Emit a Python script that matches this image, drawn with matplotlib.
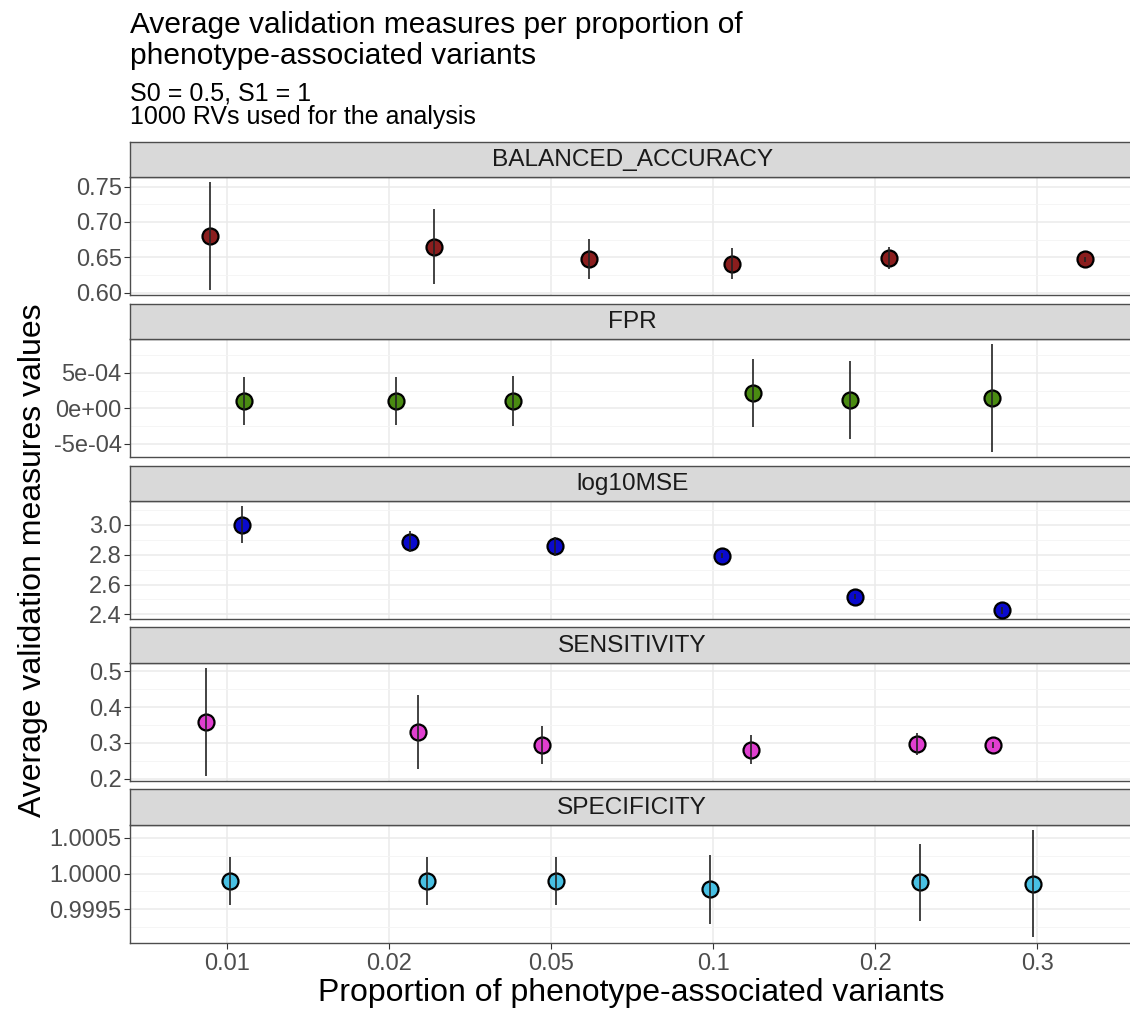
import matplotlib
matplotlib.use("Agg")
import matplotlib.pyplot as plt
from matplotlib.ticker import FixedLocator, FixedFormatter, NullFormatter

plt.rcParams["font.family"] = ["Liberation Sans", "DejaVu Sans"]

# proportions of phenotype-associated variants (discrete x axis)
proportions = ["0.01", "0.02", "0.05", "0.1", "0.2", "0.3"]
measures = ["BALANCED_ACCURACY", "FPR", "log10MSE", "SENSITIVITY", "SPECIFICITY"]

# mean and sd of each measure per proportion
ba_mean = [0.680, 0.665, 0.648, 0.641, 0.649, 0.647]
ba_sd = [0.076, 0.053, 0.028, 0.022, 0.016, 0.004]
fpr_mean = [1.0e-4, 1.0e-4, 1.0e-4, 2.2e-4, 1.2e-4, 1.45e-4]
fpr_sd = [3.4e-4, 3.4e-4, 3.5e-4, 4.8e-4, 5.5e-4, 7.55e-4]
mse_mean = [3.000, 2.886, 2.856, 2.793, 2.519, 2.427]
mse_sd = [0.125, 0.070, 0.065, 0.018, 0.018, 0.022]
sens_mean = [0.359, 0.330, 0.294, 0.2815, 0.297, 0.294]
sens_sd = [0.150, 0.104, 0.054, 0.040, 0.032, 0.008]
spec_mean = [0.999895, 0.999895, 0.999895, 0.99978, 0.999876, 0.999858]
spec_sd = [0.00033, 0.00033, 0.00034, 0.00048, 0.00054, 0.00075]

# horizontal jitter of the points (fraction of category spacing)
ba_jitter = [-0.107, 0.274, 0.235, 0.117, 0.085, 0.294]
fpr_jitter = [0.105, 0.043, -0.239, 0.243, -0.154, -0.278]
mse_jitter = [0.091, 0.127, 0.025, 0.057, -0.128, -0.216]
sens_jitter = [-0.130, 0.175, -0.054, 0.232, 0.260, -0.275]
spec_jitter = [0.015, 0.236, 0.029, -0.023, 0.276, -0.028]

means = [ba_mean, fpr_mean, mse_mean, sens_mean, spec_mean]
sds = [ba_sd, fpr_sd, mse_sd, sens_sd, spec_sd]
jitters = [ba_jitter, fpr_jitter, mse_jitter, sens_jitter, spec_jitter]
fills = ["#8B1E1E", "#4A8B12", "#0A0ACD", "#E03FD0", "#48C0E3"]

yticks = [
    [0.60, 0.65, 0.70, 0.75],
    [-5e-4, 0.0, 5e-4],
    [2.4, 2.6, 2.8, 3.0],
    [0.2, 0.3, 0.4, 0.5],
    [0.9995, 1.0, 1.0005],
]
ytick_labels = [
    ["0.60", "0.65", "0.70", "0.75"],
    ["-5e-04", "0e+00", "5e-04"],
    ["2.4", "2.6", "2.8", "3.0"],
    ["0.2", "0.3", "0.4", "0.5"],
    ["0.9995", "1.0000", "1.0005"],
]
yminor = [
    [0.575, 0.625, 0.675, 0.725, 0.775],
    [-7.5e-4, -2.5e-4, 2.5e-4, 7.5e-4],
    [2.3, 2.5, 2.7, 2.9, 3.1],
    [0.15, 0.25, 0.35, 0.45, 0.55],
    [0.99925, 0.99975, 1.00025, 1.00075],
]

W, H = 1130, 1010
fig = plt.figure(figsize=(W / 100, H / 100), dpi=100)

left_px, right_px = 130, 1134.5
top0, pitch, strip_h, panel_h = 141.7, 161.9, 35.3, 118.2

def fx(px):
    return px / W

def fy(px):
    return 1 - px / H

for i, name in enumerate(measures):
    s_top = top0 + i * pitch
    p_top = s_top + strip_h
    ax = fig.add_axes([fx(left_px), fy(p_top + panel_h), fx(right_px - left_px), panel_h / H])
    sax = fig.add_axes([fx(left_px), fy(p_top), fx(right_px - left_px), strip_h / H])

    # strip
    sax.set_facecolor("#D9D9D9")
    sax.set_xticks([])
    sax.set_yticks([])
    for sp in sax.spines.values():
        sp.set_color("#4D4D4D")
        sp.set_linewidth(1.0)
    sax.text(0.5, 0.47, name, transform=sax.transAxes, ha="center", va="center",
             fontsize=17.6, color="#1A1A1A")

    xs = [k + 1 + j for k, j in enumerate(jitters[i])]
    ax.plot(xs, means[i], linestyle="none", marker="o", markersize=11.5,
            markerfacecolor=fills[i], markeredgecolor="black", markeredgewidth=1.6,
            zorder=3)
    ax.errorbar(xs, means[i], yerr=sds[i], fmt="none", ecolor="#222222",
                elinewidth=1.2, capsize=0, zorder=4)

    ax.set_xlim(0.4, 6.6)
    ax.margins(y=0.05)
    ax.set_xticks(range(1, len(proportions) + 1))
    ax.yaxis.set_major_locator(FixedLocator(yticks[i]))
    ax.yaxis.set_major_formatter(FixedFormatter(ytick_labels[i]))
    ax.yaxis.set_minor_locator(FixedLocator(yminor[i]))
    ax.yaxis.set_minor_formatter(NullFormatter())

    ax.grid(True, which="major", color="#EBEBEB", linewidth=1.1)
    ax.grid(True, which="minor", axis="y", color="#F4F4F4", linewidth=0.6)
    ax.set_axisbelow(True)
    for sp in ax.spines.values():
        sp.set_color("#4D4D4D")
        sp.set_linewidth(1.0)

    ax.tick_params(axis="y", which="major", length=4, width=0.8, color="#333333",
                   labelsize=17, labelcolor="#4D4D4D", pad=2)
    ax.tick_params(axis="y", which="minor", length=0)
    if i == len(measures) - 1:
        ax.set_xticklabels(proportions)
        ax.tick_params(axis="x", length=4, width=0.8, color="#333333",
                       labelsize=17, labelcolor="#4D4D4D", pad=3)
    else:
        ax.tick_params(axis="x", length=0, labelbottom=False)

fig.text(fx(130), fy(33), "Average validation measures per proportion of",
         fontsize=21.5, va="baseline", ha="left", color="black")
fig.text(fx(130), fy(64), "phenotype-associated variants",
         fontsize=21.5, va="baseline", ha="left", color="black")
fig.text(fx(130), fy(100), "S0 = 0.5, S1 = 1",
         fontsize=18, va="baseline", ha="left", color="black")
fig.text(fx(130), fy(124), "1000 RVs used for the analysis",
         fontsize=18, va="baseline", ha="left", color="black")

fig.text(fx(631), fy(993), "Proportion of phenotype-associated variants",
         fontsize=23, ha="center", va="center", color="black")
fig.text(fx(33), fy(560), "Average validation measures values",
         fontsize=23, rotation=90, ha="center", va="center", color="black")

fig.savefig("out.png", dpi=100)
